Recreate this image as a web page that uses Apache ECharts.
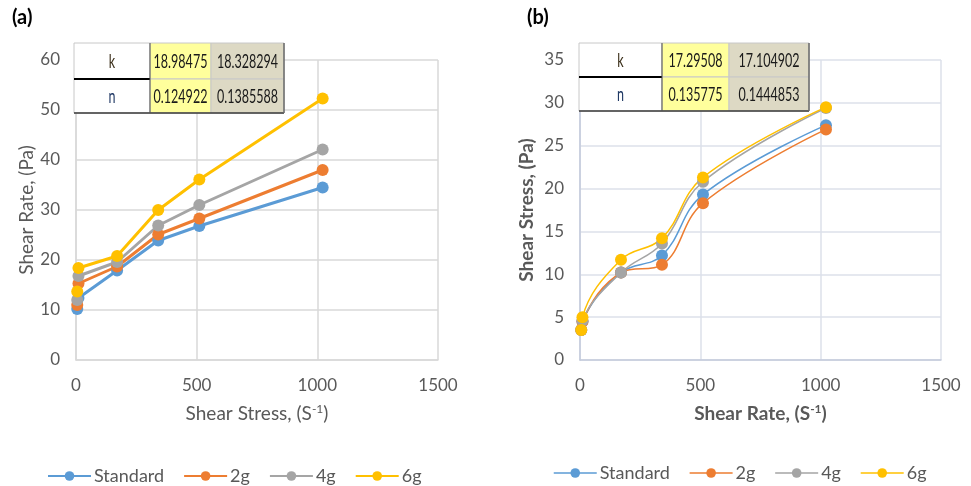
<!DOCTYPE html>
<html>
<head>
<meta charset="utf-8">
<script src="https://cdn.jsdelivr.net/npm/echarts@6/dist/echarts.min.js"></script>
<style>
  html, body { margin: 0; padding: 0; background: #fff; }
  #main { width: 971px; height: 486px; }
</style>
</head>
<body>
<div id="main"></div>
<script>
// shear rates (viscometer 3, 6, 100, 200, 300, 600 rpm)
const shearRates = [5.11, 10.22, 170.3, 340.6, 511, 1022]
const seriesNames = ['Standard', '2g', '4g', '6g']
const colors = ['#5B9BD5', '#ED7D31', '#A5A5A5', '#FFC000']

// chart (a)
const standardA = [10.2, 12.4, 17.9, 23.9, 26.8, 34.5]
const g2A = [11.0, 15.3, 18.7, 25.1, 28.3, 38.0]
const g4A = [12.0, 16.8, 19.6, 26.9, 31.0, 42.1]
const g6A = [13.7, 18.4, 20.8, 30.0, 36.1, 52.3]
const kA = ['18.98475', '18.328294']
const nA = ['0.124922', '0.1385588']

// chart (b)
const standardB = [3.5, 4.5, 10.2, 12.2, 19.3, 27.4]
const g2B = [3.5, 4.5, 10.2, 11.1, 18.3, 26.9]
const g4B = [3.5, 4.6, 10.2, 13.6, 20.8, 29.4]
const g6B = [3.5, 5.0, 11.7, 14.2, 21.3, 29.5]
const kB = ['17.29508', '17.104902']
const nB = ['0.135775', '0.1444853']

const tickFont = 'Lato, sans-serif'

const chart = echarts.init(document.getElementById('main'))

// parameter table drawn over the top-left of a plot
function makeTable(x0, y0, colW, rowH, kVals, nVals) {
    const els = []
    const fills = ['#ffffff', '#FFFF9C', '#DDD9C4']
    const rows = [['k'].concat(kVals), ['n'].concat(nVals)]
    const labelColors = ['#3b2f1a', '#1f3864']
    let y = y0
    rows.forEach((row, r) => {
        let x = x0
        row.forEach((txt, c) => {
            els.push({
                type: 'rect', z: 100,
                shape: { x: x, y: y, width: colW[c], height: rowH[r] },
                style: { fill: fills[c], stroke: '#c8c8c8', lineWidth: 1 }
            })
            // narrow the text a bit, the original uses a condensed face
            els.push({
                type: 'text', z: 101,
                x: x + colW[c] / 2, y: y + rowH[r] / 2 + 1,
                scaleX: 0.66,
                style: {
                    text: txt, x: 0, y: 0,
                    textAlign: 'center', textVerticalAlign: 'middle',
                    font: '19px ' + tickFont,
                    fill: c === 0 ? labelColors[r] : '#1a1a1a'
                }
            })
            x += colW[c]
        })
        y += rowH[r]
    })
    const totalW = colW.reduce((a, b) => a + b, 0)
    // thick rule under "k"
    els.push({ type: 'line', z: 102, shape: { x1: x0, y1: y0 + rowH[0], x2: x0 + colW[0], y2: y0 + rowH[0] }, style: { stroke: '#000', lineWidth: 2 } })
    // darker bottom + right edges
    els.push({ type: 'line', z: 102, shape: { x1: x0, y1: y, x2: x0 + totalW, y2: y }, style: { stroke: '#3a3a3a', lineWidth: 1.5 } })
    els.push({ type: 'line', z: 102, shape: { x1: x0 + totalW, y1: y0, x2: x0 + totalW, y2: y }, style: { stroke: '#6a6a6a', lineWidth: 1.5 } })
    els.push({ type: 'line', z: 102, shape: { x1: x0 + colW[0], y1: y0, x2: x0 + colW[0], y2: y }, style: { stroke: '#555', lineWidth: 1 } })
    return els
}

function toPoints(vals) {
    return vals.map((v, i) => [shearRates[i], v])
}

const supRich = {
    sup: { fontSize: 12, verticalAlign: 'top', padding: [0, 0, 9, 0] }
}

function xAxisOpt(idx, name, bold, gridColor, axisColor) {
    return {
        gridIndex: idx, type: 'value', min: 0, max: 1500, interval: 500,
        name: name, nameLocation: 'middle', nameGap: 43,
        nameTextStyle: { fontSize: 19, color: '#595959', fontFamily: tickFont, fontWeight: bold ? 'bold' : 'normal', rich: supRich },
        axisLine: { show: true, lineStyle: { color: axisColor, width: 1.5 } },
        axisTick: { show: false },
        axisLabel: { fontSize: 17, color: '#595959', fontFamily: tickFont, margin: 17, formatter: v => String(v) },
        splitLine: { show: true, lineStyle: { color: gridColor, width: 1.5 } }
    }
}

function yAxisOpt(idx, name, bold, max, interval, gap, gridColor, axisColor) {
    return {
        gridIndex: idx, type: 'value', min: 0, max: max, interval: interval,
        name: name, nameLocation: 'middle', nameGap: gap, nameRotate: 90,
        nameTextStyle: { fontSize: 19, color: '#595959', fontFamily: tickFont, fontWeight: bold ? 'bold' : 'normal' },
        axisLine: { show: true, lineStyle: { color: axisColor, width: 1.5 } },
        axisTick: { show: false },
        axisLabel: { fontSize: 17, color: '#595959', fontFamily: tickFont, margin: 16 },
        splitLine: { show: true, lineStyle: { color: gridColor, width: 1.5 } }
    }
}

const dataA = [standardA, g2A, g4A, g6A]
const dataB = [standardB, g2B, g4B, g6B]

const seriesA = dataA.map((vals, i) => ({
    name: seriesNames[i], type: 'line', xAxisIndex: 0, yAxisIndex: 0,
    data: toPoints(vals), symbol: 'circle', symbolSize: 12,
    lineStyle: { width: 3, color: colors[i] },
    itemStyle: { color: colors[i] },
    emphasis: { disabled: true }
}))
const seriesB = dataB.map((vals, i) => ({
    name: seriesNames[i], type: 'line', xAxisIndex: 1, yAxisIndex: 1,
    data: toPoints(vals), symbol: 'circle', symbolSize: 12, smooth: 0.4,
    lineStyle: { width: 1.5, color: colors[i] },
    itemStyle: { color: colors[i] },
    emphasis: { disabled: true }
}))

const legendBase = {
    data: seriesNames, itemWidth: 43, itemHeight: 12, itemGap: 19,
    textStyle: { fontSize: 18, color: '#595959', fontFamily: tickFont, padding: [0, 0, 0, -2] }
}

const option = {
    animation: false,
    grid: [
        { left: 76, top: 60, width: 362, height: 300 },
        { left: 580, top: 60, width: 361, height: 300 }
    ],
    xAxis: [
        xAxisOpt(0, 'Shear Stress, (S{sup|-1})', false, '#d9d9d9', '#d9d9d9'),
        xAxisOpt(1, 'Shear Rate, (S{sup|-1})', true, '#dde1ea', '#c3cadb')
    ],
    yAxis: [
        yAxisOpt(0, 'Shear Rate, (Pa)', false, 60, 10, 37, '#d9d9d9', '#d9d9d9'),
        yAxisOpt(1, 'Shear Stress, (Pa)', true, 35, 5, 44, '#dde1ea', '#c3cadb')
    ],
    legend: [
        Object.assign({ left: 42, top: 462 }, legendBase),
        Object.assign({ left: 548, top: 459, lineStyle: { width: 1.5 } }, legendBase)
    ],
    graphic: [
        { type: 'text', style: { text: '(a)', x: 12, y: 8, font: 'bold 20px ' + tickFont, fill: '#000' } },
        { type: 'text', style: { text: '(b)', x: 527, y: 8, font: 'bold 20px ' + tickFont, fill: '#000' } }
    ].concat(
        makeTable(74, 43, [76, 61, 73], [36, 34], kA, nA),
        makeTable(579, 43, [83, 67, 80], [34, 34], kB, nB)
    ),
    series: seriesA.concat(seriesB)
}

chart.setOption(option)
</script>
</body>
</html>
